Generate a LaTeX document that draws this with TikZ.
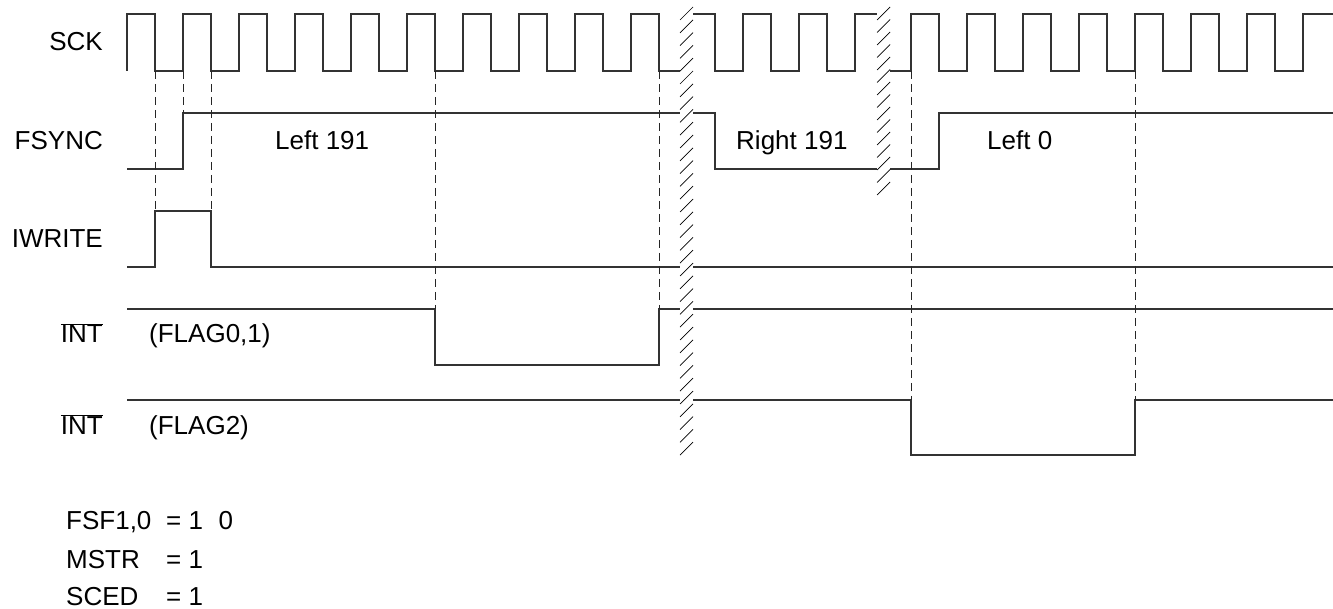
\documentclass[tikz,border=0pt]{standalone}
\usepackage{fontspec}
\setmainfont{Liberation Sans}
\begin{document}
\begin{tikzpicture}[x=1pt,y=-1pt,
  sig/.style={line width=1.1pt, black!80, line join=miter},
  guide/.style={line width=0.9pt, black!85, dash pattern=on 8pt off 5pt},
  hatchln/.style={line width=0.7pt, black},
  lbl/.style={font=\fontsize{26}{31}\selectfont, inner sep=0pt}]
\useasboundingbox (0,0) rectangle (1333,609);

% ---- signal names
\node[lbl, anchor=base east] (sck)   at (103,51)  {SCK};
\node[lbl, anchor=base east] (fsync) at (103,150) {FSYNC};
\node[lbl, anchor=base east] (iwr)   at (103,248) {IWRITE};
\node[lbl, anchor=base east] (inta)  at (103,343) {$\overline{\mbox{INT}}$};
\node[lbl, anchor=base east] (intb)  at (103,434) {$\overline{\mbox{INT}}$};
\node[lbl, anchor=base west] (flga)  at (149,343) {(FLAG0,1)};
\node[lbl, anchor=base west] (flgb)  at (149,434) {(FLAG2)};

% ---- in-waveform texts
\node[lbl, anchor=base west] (l191) at (275,150) {Left 191};
\node[lbl, anchor=base west] (r191) at (736,150) {Right 191};
\node[lbl, anchor=base west] (l0)   at (987,150) {Left 0};

% ---- settings
\node[lbl, anchor=base west] (fsf)  at (66,529) {FSF1,0};
\node[lbl, anchor=base west] (fsfv) at (166,529) {= 1};
\node[lbl, anchor=base west] (fsfz) at (218.5,529) {0};
\node[lbl, anchor=base west] (mstr) at (66,568) {MSTR};
\node[lbl, anchor=base west] (mstv) at (166,568) {= 1};
\node[lbl, anchor=base west] (sced) at (66,605) {SCED};
\node[lbl, anchor=base west] (scev) at (166,605) {= 1};

% ---- SCK
\draw[sig] (127,71) \foreach \k in {0,...,9} { -- ({127+56*\k},71) -- ({127+56*\k},14) -- ({155+56*\k},14) -- ({155+56*\k},71) } -- (680,71);
\draw[sig] (693,14) -- (715,14) -- (715,71) -- (743,71) -- (743,14) -- (771,14) -- (771,71) -- (799,71) -- (799,14) -- (827,14) -- (827,71) -- (855,71) -- (855,14) -- (877,14);
\draw[sig] (890,71) \foreach \k in {0,...,6} { -- ({911+56*\k},71) -- ({911+56*\k},14) -- ({939+56*\k},14) -- ({939+56*\k},71) } -- (1303,71) -- (1303,14) -- (1333,14);

% ---- FSYNC
\draw[sig] (127,169) -- (183,169) -- (183,113) -- (680,113);
\draw[sig] (693,113) -- (715,113) -- (715,169) -- (877,169);
\draw[sig] (890,169) -- (939,169) -- (939,113) -- (1333,113);

% ---- IWRITE
\draw[sig] (127,267) -- (155,267) -- (155,211) -- (211,211) -- (211,267) -- (680,267);
\draw[sig] (693,267) -- (1333,267);

% ---- INT (FLAG0,1)
\draw[sig] (127,309) -- (435,309) -- (435,365) -- (659,365) -- (659,309) -- (680,309);
\draw[sig] (693,309) -- (1333,309);

% ---- INT (FLAG2)
\draw[sig] (127,400) -- (680,400);
\draw[sig] (693,400) -- (911,400) -- (911,455) -- (1135,455) -- (1135,400) -- (1333,400);

% ---- guide lines
\draw[guide] (155,71) -- (155,211);
\draw[guide] (183,71) -- (183,113);
\draw[guide] (211,71) -- (211,211);
\draw[guide] (435,71) -- (435,309);
\draw[guide] (659,71) -- (659,309);
\draw[guide] (911,71) -- (911,400);
\draw[guide] (1135,71) -- (1135,400);

% ---- time-break hatching
\foreach \i in {0,...,34} \draw[hatchln] (680,{20+12.8*\i}) -- (693,{7+12.8*\i});
\foreach \i in {0,...,14} \draw[hatchln] (877,{20+12.5*\i}) -- (890,{7+12.5*\i});
\end{tikzpicture}
\end{document}
